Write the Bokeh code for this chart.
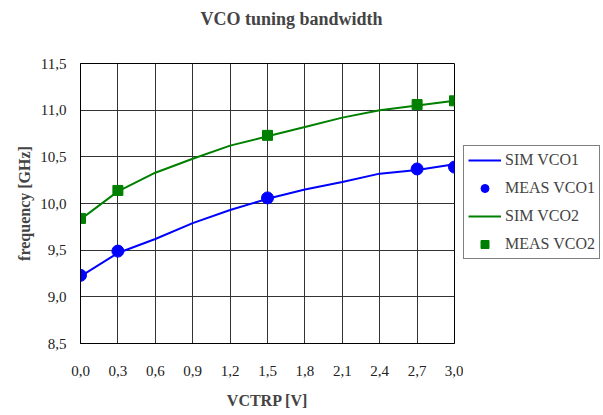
from bokeh.plotting import figure
from bokeh.layouts import row
from bokeh.models import Legend, LegendItem, FixedTicker, Range1d
from bokeh.embed import file_html
from bokeh.resources import INLINE

# data
sim_x = [0.0, 0.3, 0.6, 0.9, 1.2, 1.5, 1.8, 2.1, 2.4, 2.7, 3.0]
sim_vco1 = [9.22, 9.47, 9.62, 9.79, 9.93, 10.05, 10.15, 10.23, 10.32, 10.36, 10.42]
sim_vco2 = [9.83, 10.13, 10.33, 10.48, 10.62, 10.72, 10.82, 10.92, 11.0, 11.05, 11.1]
meas_x = [0.0, 0.3, 1.5, 2.7, 3.0]
meas_vco1 = [9.23, 9.49, 10.06, 10.37, 10.39]
meas_vco2 = [9.84, 10.14, 10.73, 11.06, 11.1]
x_ticks = [0.0, 0.3, 0.6, 0.9, 1.2, 1.5, 1.8, 2.1, 2.4, 2.7, 3.0]
y_ticks = [8.5, 9.0, 9.5, 10.0, 10.5, 11.0, 11.5]
series_names = ["SIM VCO1", "MEAS VCO1", "SIM VCO2", "MEAS VCO2"]

FONT = "Liberation Serif"
blue = "#0000FF"
green = "#008000"


def draw_series(fig):
    r1 = fig.line(sim_x, sim_vco1, line_color=blue, line_width=2)
    r2 = fig.scatter(meas_x, meas_vco1, marker="circle", size=12, fill_color=blue, line_color=blue)
    r3 = fig.line(sim_x, sim_vco2, line_color=green, line_width=2)
    r4 = fig.scatter(meas_x, meas_vco2, marker="square", size=10, fill_color=green, line_color=green)
    return [r1, r2, r3, r4]


p = figure(width=463, height=415, output_backend="svg", toolbar_location=None,
           x_range=Range1d(0, 3.0), y_range=Range1d(8.5, 11.5),
           min_border_left=80, min_border_right=9, min_border_top=63, min_border_bottom=72)
p.title.text = "VCO tuning bandwidth\n "
p.title.align = "left"
p.title.vertical_align = "bottom"
p.title.text_font = FONT
p.title.text_font_size = "18px"
p.title.text_font_style = "bold"
p.title.text_line_height = 1.6
p.title.offset = 120
p.title.standoff = 6

p.outline_line_color = "black"
p.outline_line_width = 1
p.background_fill_color = "white"
p.border_fill_color = "white"

for ax in (p.xaxis, p.yaxis):
    ax.axis_line_color = "black"
    ax.major_tick_line_color = None
    ax.minor_tick_line_color = None
    ax.major_label_text_font = FONT
    ax.major_label_text_font_size = "15px"
    ax.major_label_text_color = "#222222"
    ax.axis_label_text_font = FONT
    ax.axis_label_text_font_size = "16px"
    ax.axis_label_text_font_style = "bold"

p.xaxis.ticker = FixedTicker(ticks=x_ticks)
p.xaxis.major_label_overrides = {t: f"{t:.1f}".replace(".", ",") for t in x_ticks}
p.xaxis.major_label_standoff = 16
p.xaxis.axis_label = "VCTRP [V]"
p.xaxis.axis_label_standoff = 13

p.yaxis.ticker = FixedTicker(ticks=y_ticks)
p.yaxis.major_label_overrides = {t: f"{t:.1f}".replace(".", ",") for t in y_ticks}
p.yaxis.major_label_standoff = 8
p.yaxis.axis_label = "frequency [GHz]"
p.yaxis.axis_label_standoff = 4

p.xgrid.grid_line_color = "#333333"
p.ygrid.grid_line_color = "#333333"
p.xgrid.grid_line_width = 1
p.ygrid.grid_line_width = 1

draw_series(p)

# legend panel to the right of the chart (series drawn out of view, legend only)
q = figure(width=140, height=415, output_backend="svg", toolbar_location=None,
           x_range=Range1d(100, 101), y_range=Range1d(100, 101),
           min_border_left=0, min_border_right=0, min_border_top=63, min_border_bottom=72)
q.axis.visible = False
q.grid.visible = False
q.outline_line_color = None
q.border_fill_color = "white"
q.background_fill_color = "white"
qr = draw_series(q)

legend = Legend(items=[LegendItem(label=n, renderers=[r]) for n, r in zip(series_names, qr)],
                location=(0, 84))
legend.label_text_font = FONT
legend.label_text_font_size = "16px"
legend.glyph_width = 33
legend.glyph_height = 20
legend.label_standoff = 4
legend.spacing = 8
legend.padding = 4
legend.margin = 0
legend.border_line_color = "black"
legend.border_line_width = 1
legend.background_fill_alpha = 1
q.add_layout(legend)

open("out.html", "w").write(file_html(row(p, q, spacing=0), INLINE))
